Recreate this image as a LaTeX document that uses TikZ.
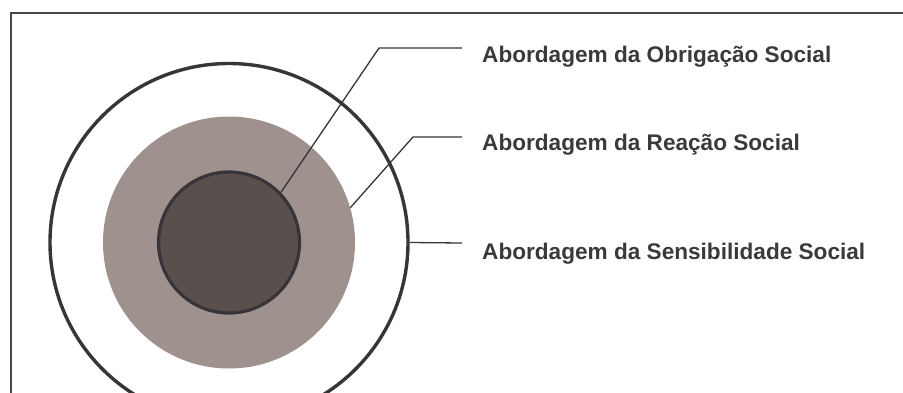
\documentclass[tikz,border=0pt]{standalone}
\usepackage{fontspec}
\setmainfont{Liberation Sans}
\definecolor{bordercol}{RGB}{70,70,74}
\definecolor{strokecol}{RGB}{55,53,58}
\definecolor{ringcol}{RGB}{159,146,142}
\definecolor{corecol}{RGB}{89,79,76}
\definecolor{textcol}{RGB}{58,58,61}
\tikzset{
  leader/.style={draw=strokecol, line width=1.3pt},
  lbl/.style={anchor=base west, inner sep=0pt, text=textcol, font=\fontsize{22.6}{27}\selectfont\bfseries},
  ringline/.style={circle, inner sep=0pt, draw=strokecol, line width=3.2pt}
}
\begin{document}
\begin{tikzpicture}[x=1pt,y=-1pt]
\useasboundingbox (0,0) rectangle (903,392);
\clip (0,0) rectangle (903,392);
\draw[line width=2pt, draw=bordercol] (11,12.5) rectangle (930,430);
\coordinate (c) at (229,242.5);
\node[ringline, line width=3.4pt, minimum size=358pt] (outer) at (c) {};
\node[circle, inner sep=0pt, fill=ringcol, minimum size=252pt] (ring) at (c) {};
\node[ringline, fill=corecol, minimum size=141pt] (core) at (c) {};
\node[lbl] (t1) at (482,62) {Abordagem da Obrigação Social};
\node[lbl] (t2) at (482,150) {Abordagem da Reação Social};
\node[lbl] (t3) at (482,259) {Abordagem da Sensibilidade Social};
\coordinate (e1) at (462,48);
\coordinate (e2) at (462,137);
\coordinate (e3) at (462,243);
\draw[leader] (core.44) -- (379,48) -- (e1);
\draw[leader] (ring.16) -- (413,137) -- (e2);
\draw[leader] (outer.0) -- (e3);
\end{tikzpicture}
\end{document}
